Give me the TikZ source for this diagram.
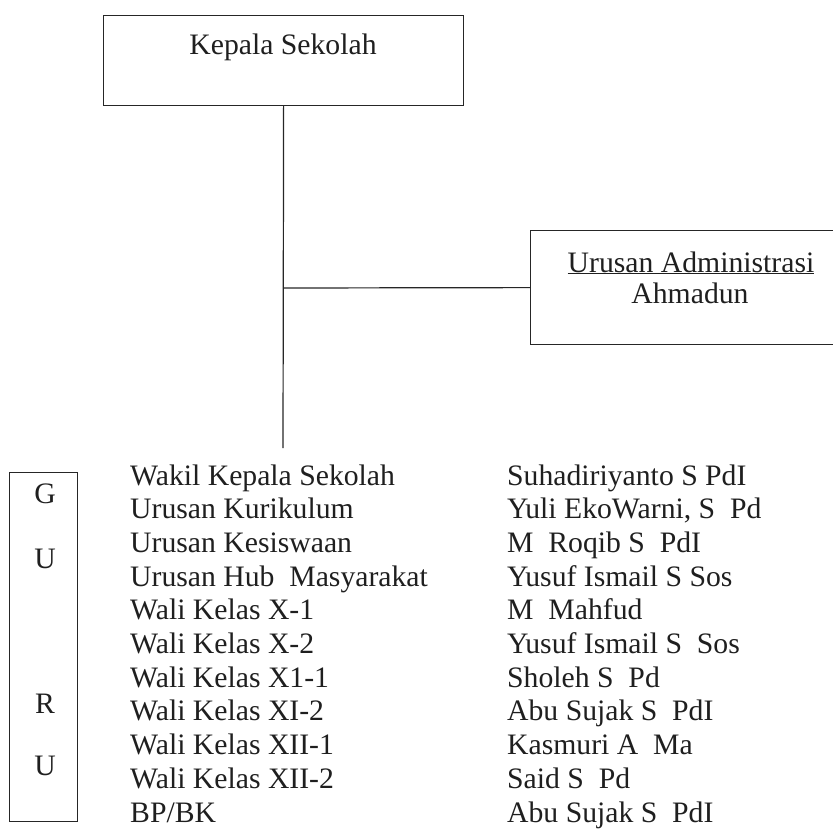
\documentclass[tikz,border=0pt]{standalone}
\usepackage{fontspec}
\setmainfont{Liberation Serif}
\begin{document}
\begin{tikzpicture}[x=1pt,y=-1pt,
  txt/.style={font=\fontsize{29.7}{34}\selectfont, inner sep=0pt, text=black!88},
  frame/.style={draw=black!85, line width=1.2pt, inner sep=0pt},
  conn/.style={draw=black!85, line width=1.2pt}]
\useasboundingbox (0,0) rectangle (833,828);
\clip (0,0) rectangle (833,828);
% boxes
\node[frame, minimum width=360pt, minimum height=90pt, anchor=north west] (kepala) at (103,15) {};
\node[frame, minimum width=320pt, minimum height=114pt, anchor=north west] (admin) at (530,230) {};
\node[frame, minimum width=68pt, minimum height=349pt, anchor=north west] (guru) at (9,472) {};
% box texts
\node[txt, anchor=base] (kepalat) at (283,54) {Kepala Sekolah};
\node[txt, anchor=base] (admint) at (691,272) {\underline{Urusan Administrasi}};
\node[txt, anchor=base] (adminn) at (690,303) {Ahmadun};
\node[txt, anchor=base] (g1) at (45,503) {G};
\node[txt, anchor=base] (g2) at (45,568) {U};
\node[txt, anchor=base] (g3) at (45,713) {R};
\node[txt, anchor=base] (g4) at (45,775) {U};
% connectors
\coordinate (junc) at (283,288);
\coordinate (lineend) at (283,448);
\draw[conn] (kepala.south) -- (lineend);
\draw[conn] (junc) -- (admin.west);
% list left
\node[txt, anchor=base west] (l1) at (130,485) {Wakil Kepala Sekolah};
\node[txt, anchor=base west] (l2) at (130,518.7) {Urusan Kurikulum};
\node[txt, anchor=base west] (l3) at (130,552.4) {Urusan Kesiswaan};
\node[txt, anchor=base west] (l4) at (130,586.1) {Urusan Hub\enspace Masyarakat};
\node[txt, anchor=base west] (l5) at (130,619.8) {Wali Kelas X-1};
\node[txt, anchor=base west] (l6) at (130,653.5) {Wali Kelas X-2};
\node[txt, anchor=base west] (l7) at (130,687.2) {Wali Kelas X1-1};
\node[txt, anchor=base west] (l8) at (130,720.9) {Wali Kelas XI-2};
\node[txt, anchor=base west] (l9) at (130,754.6) {Wali Kelas XII-1};
\node[txt, anchor=base west] (l10) at (130,788.3) {Wali Kelas XII-2};
\node[txt, anchor=base west] (l11) at (130,822) {BP/BK};
% list right
\node[txt, anchor=base west] (r1) at (507,485) {Suhadiriyanto S PdI};
\node[txt, anchor=base west] (r2) at (507,518.7) {Yuli EkoWarni, S\enspace Pd};
\node[txt, anchor=base west] (r3) at (507,552.4) {M\enspace Roqib S\enspace PdI};
\node[txt, anchor=base west] (r4) at (507,586.1) {Yusuf Ismail S Sos};
\node[txt, anchor=base west] (r5) at (507,619.8) {M\enspace Mahfud};
\node[txt, anchor=base west] (r6) at (507,653.5) {Yusuf Ismail S\enspace Sos};
\node[txt, anchor=base west] (r7) at (507,687.2) {Sholeh S\enspace Pd};
\node[txt, anchor=base west] (r8) at (507,720.9) {Abu Sujak S\enspace PdI};
\node[txt, anchor=base west] (r9) at (507,754.6) {Kasmuri A\enspace Ma};
\node[txt, anchor=base west] (r10) at (507,788.3) {Said S\enspace Pd};
\node[txt, anchor=base west] (r11) at (507,822) {Abu Sujak S\enspace PdI};
\end{tikzpicture}
\end{document}
